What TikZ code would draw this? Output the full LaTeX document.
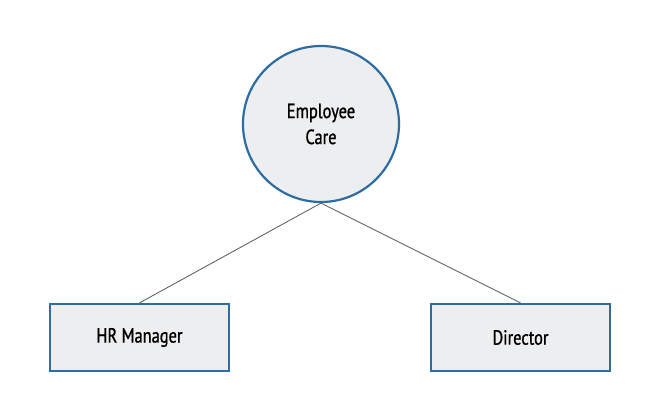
\documentclass[tikz,border=0pt]{standalone}
\usepackage{fontspec}
\setmainfont[FakeStretch=0.8,FakeBold=1]{PT Sans}
\usepackage{tikz}
\usetikzlibrary{positioning}
\definecolor{edgeblue}{HTML}{2E6DA4}
\definecolor{boxfill}{HTML}{EDEEF0}
\definecolor{linkgray}{HTML}{555555}
\tikzset{
  topic/.style={circle, draw=edgeblue, fill=boxfill, line width=2.2pt,
    minimum size=156pt, inner sep=0pt, align=center, font=\fontsize{20.5}{26}\selectfont},
  role/.style={rectangle, draw=edgeblue, fill=boxfill, line width=2.2pt,
    minimum width=179pt, minimum height=67pt, font=\fontsize{20.5}{24}\selectfont},
  link/.style={draw=linkgray, line width=0.8pt}
}
\begin{document}
\begin{tikzpicture}[x=1pt,y=1pt]
  \useasboundingbox (0,0) rectangle (670,408);
  \node [topic] (care) at (321,284) {Employee\\Care};
  \node [role] (hr) at (139.5,70.5) {HR Manager};
  \node [role] (dir) at (520.5,70.5) {Director};
  \draw [link] (care.south) -- (hr.north);
  \draw [link] (care.south) -- (dir.north);
\end{tikzpicture}
\end{document}
